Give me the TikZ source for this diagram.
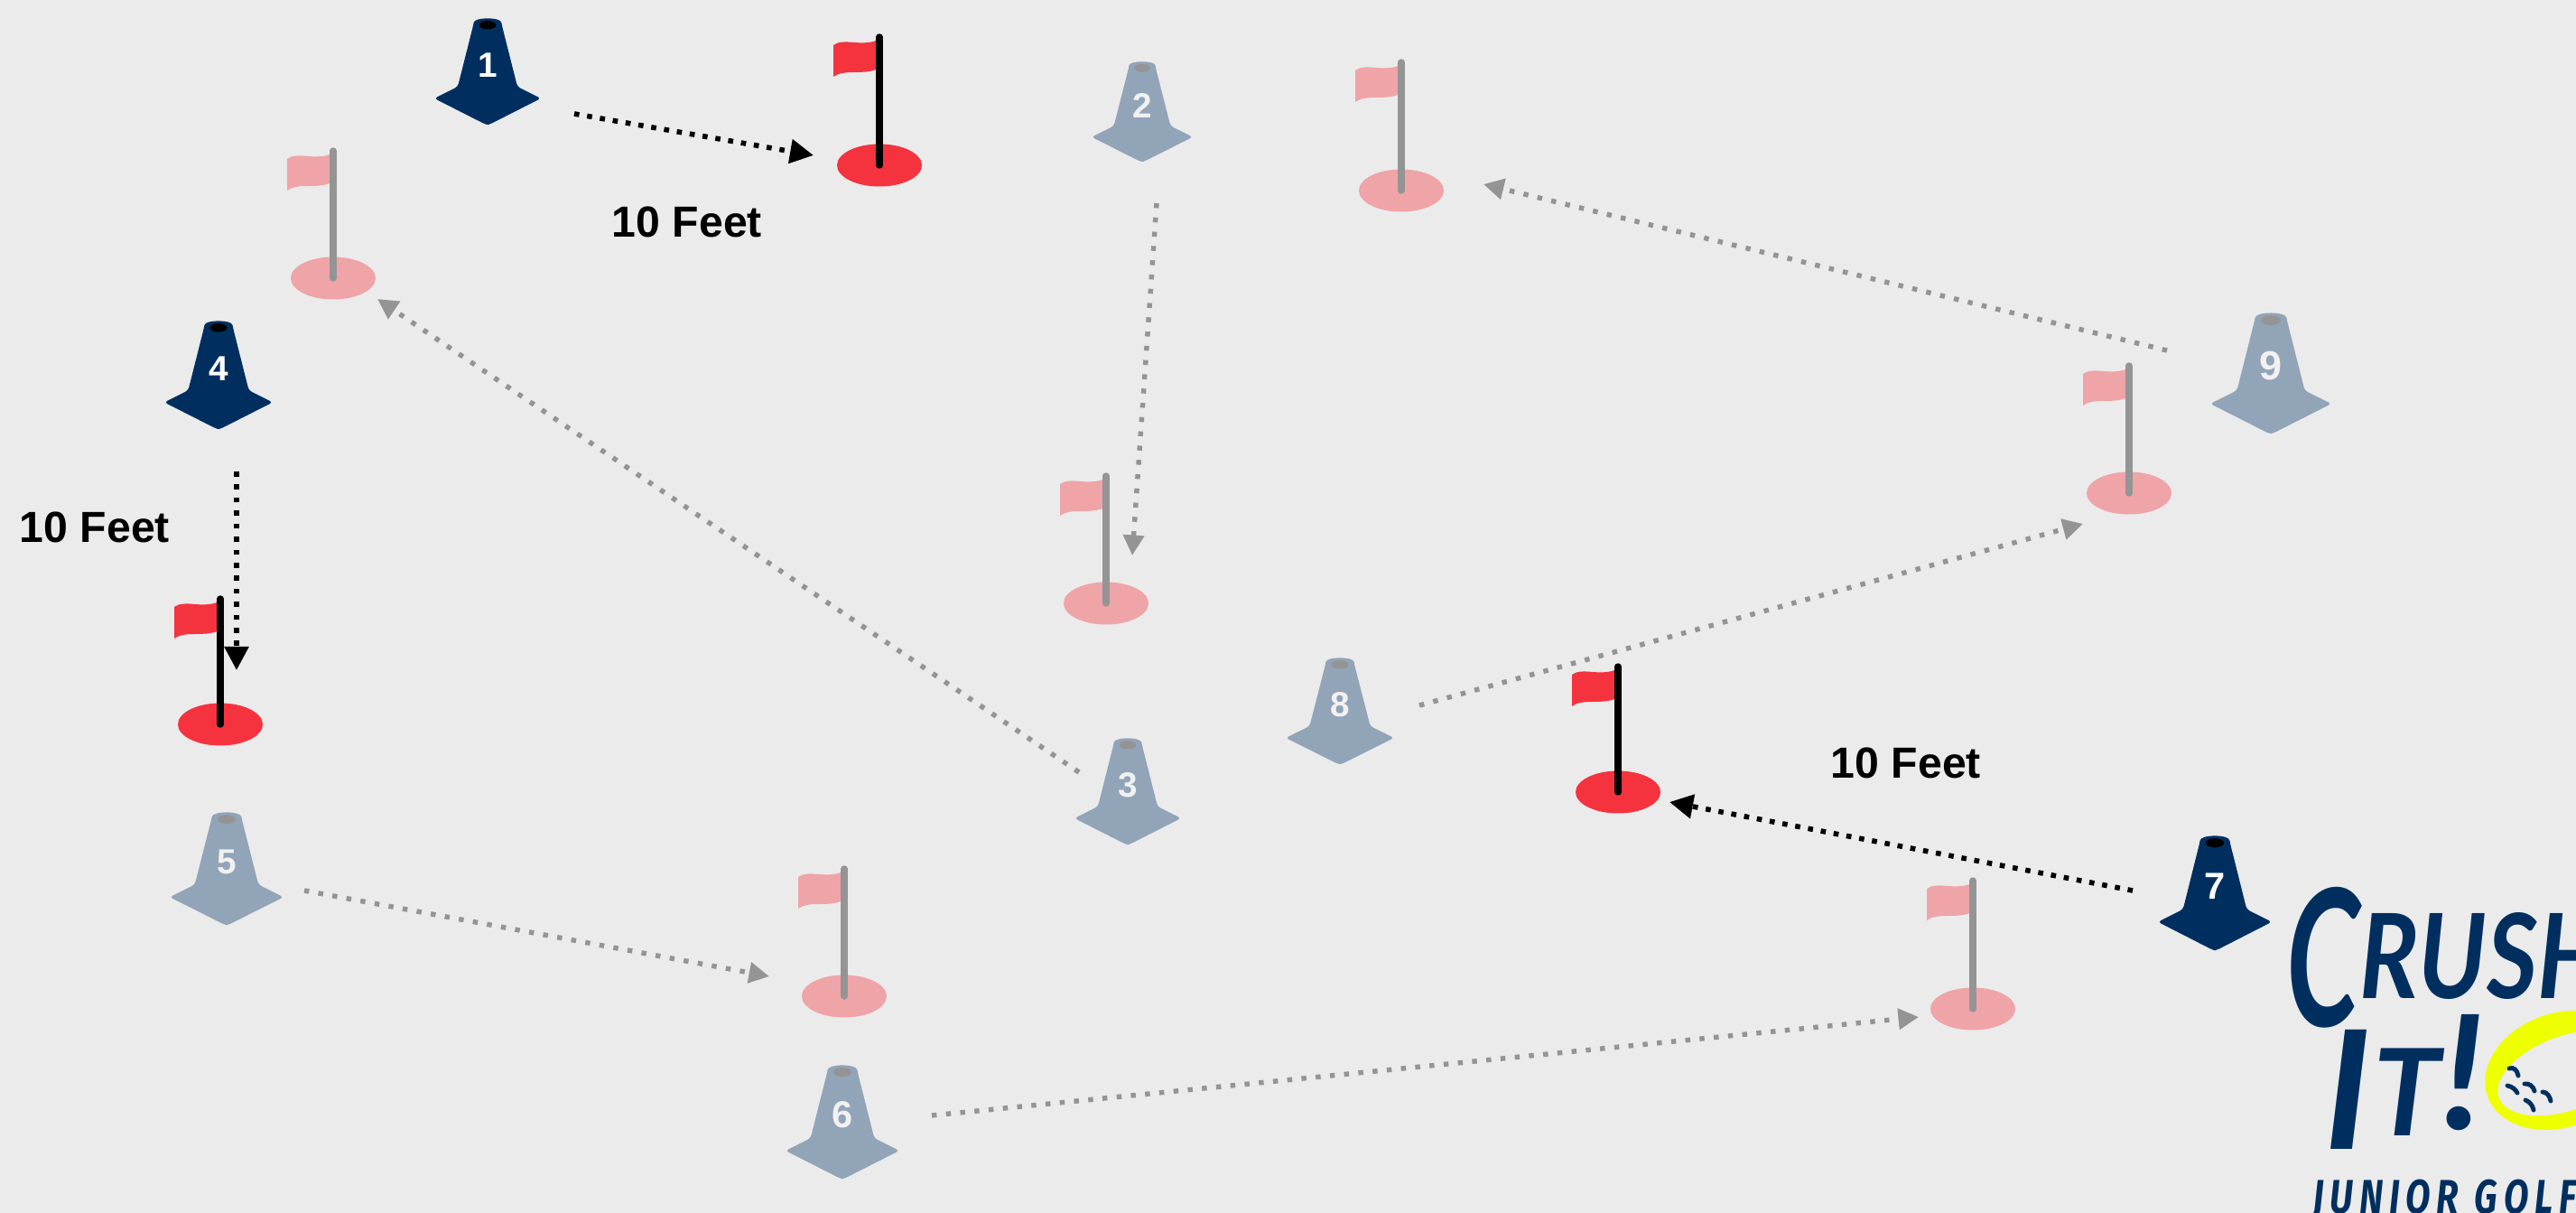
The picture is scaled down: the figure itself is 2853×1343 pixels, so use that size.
\documentclass[tikz,border=0pt]{standalone}
\usepackage{fontspec}
\usepackage{graphicx}
\setmainfont{Liberation Sans}
\newfontfamily\logofont{Lato}
\newfontfamily\firafont{Fira Sans}
\usetikzlibrary{arrows.meta,shapes.geometric}
\definecolor{bgc}{HTML}{EBEBEB}
\definecolor{navyc}{HTML}{002F5F}
\definecolor{paleblue}{HTML}{92A4B7}
\definecolor{redc}{HTML}{F5333F}
\definecolor{pinkc}{HTML}{EFA4A8}
\definecolor{greyc}{HTML}{949494}
\definecolor{numpale}{HTML}{F1F1F1}
\definecolor{yellowc}{HTML}{EEFF00}
\tikzset{
  blackarrow/.style={draw=black,line width=1.6pt,dash pattern=on 1.6pt off 2.5pt,-{Triangle[length=7.4pt,width=7.4pt]}},
  greyarrow/.style={draw=greyc,line width=1.55pt,dash pattern=on 1.55pt off 2.95pt,-{Triangle[length=6.4pt,width=6.4pt]}},
  feetlabel/.style={font=\fontsize{13.7}{16}\selectfont\bfseries,text=black,inner sep=0pt},
  dimple/.style={draw=navyc,line width=1.4pt,line cap=round},
}
% name, cx, top, halfwidth, height, number, fill, hole, numcolor
\newcommand{\conepic}[9]{%
  \begin{scope}[shift={(#2,#3)},xscale=#4,yscale=#5]
    \fill[#7,rounded corners=1pt] (-0.56,0.644) -- (-0.27,0.07)
      .. controls (-0.24,-0.01) and (0.24,-0.01) .. (0.27,0.07)
      -- (0.56,0.644) -- (1,0.754) -- (0.03,1) -- (-0.03,1) -- (-1,0.754) -- cycle;
    \fill[#8] (0,0.065) ellipse [x radius=0.16,y radius=0.04];
    \node[text=#9,inner sep=0pt,font=\fontsize{\conefs}{\conefs}\selectfont\bfseries] (#1) at (0,0.44) {#6};
  \end{scope}}
% X, top, centre y, flag colour, pole colour
\newcommand{\flagpin}[5]{%
  \begin{scope}[shift={(#1,#2)}]
    \fill[#4] (0,#3) ellipse [x radius=47,y radius=23.5];
    \fill[#4] (-51,7) .. controls (-46,3) and (-38,3) .. (-28,4) .. controls (-15,5) and (-6,4) .. (0,0)
      -- (0,32) .. controls (-6,36) and (-15,37) .. (-28,37) .. controls (-38,37) and (-46,38) .. (-51,42) -- cycle;
    \draw[#5,line width=2.1pt,line cap=round] (0,-2) -- (0,#3);
  \end{scope}}
\begin{document}
\begin{tikzpicture}[x=0.01cm,y=-0.01cm]
\useasboundingbox (0,0) rectangle (2853,1343);
\clip (0,0) rectangle (2853,1343);
\fill[bgc] (0,0) rectangle (2853,1343);

% faded flags
\flagpin{369}{169}{139}{pinkc}{greyc}
\flagpin{1552}{71}{140}{pinkc}{greyc}
\flagpin{1225}{529}{139}{pinkc}{greyc}
\flagpin{2358}{407}{139}{pinkc}{greyc}
\flagpin{935}{964}{139}{pinkc}{greyc}
\flagpin{2185}{977}{140}{pinkc}{greyc}
% active flags
\flagpin{974}{43}{140}{redc}{black}
\flagpin{244}{665}{137}{redc}{black}
\flagpin{1792}{740}{137}{redc}{black}

% cones
\def\conefs{11}
\conepic{coneone}{540}{20}{59}{118}{1}{navyc}{black}{white}
\conepic{conefour}{242}{355}{60}{120}{4}{navyc}{black}{white}
\conepic{conetwo}{1265}{68}{56}{111}{2}{paleblue}{greyc}{numpale}
\conepic{conethree}{1249}{817}{59}{118}{3}{paleblue}{greyc}{numpale}
\conepic{conefive}{251}{899}{63}{125}{5}{paleblue}{greyc}{numpale}
\conepic{coneeight}{1484}{728}{60}{118}{8}{paleblue}{greyc}{numpale}
\def\conefs{11.8}
\conepic{coneseven}{2453}{925}{63}{127}{7}{navyc}{black}{white}
\conepic{conesix}{933}{1179}{63}{126}{6}{paleblue}{greyc}{numpale}
\def\conefs{12.8}
\conepic{conenine}{2515}{346}{67}{134}{9}{paleblue}{greyc}{numpale}

% connector ends
\coordinate (a1s) at (636,126);  \coordinate (a1t) at (901,172);
\coordinate (a2s) at (1281,225); \coordinate (a2t) at (1254,615);
\coordinate (a3s) at (1195,855); \coordinate (a3t) at (418,331);
\coordinate (a4s) at (262,522);  \coordinate (a4t) at (262,742);
\coordinate (a5s) at (337,986);  \coordinate (a5t) at (852,1081);
\coordinate (a6s) at (1032,1235);\coordinate (a6t) at (2125,1126);
\coordinate (a7s) at (2362,986); \coordinate (a7t) at (1849,888);
\coordinate (a8s) at (1572,781); \coordinate (a8t) at (2307,580);
\coordinate (a9s) at (2400,388); \coordinate (a9t) at (1643,204);

\draw[blackarrow] (a1s) -- (a1t);
\draw[blackarrow] (a4s) -- (a4t);
\draw[blackarrow] (a7s) -- (a7t);
\draw[greyarrow] (a2s) -- (a2t);
\draw[greyarrow] (a3s) -- (a3t);
\draw[greyarrow] (a5s) -- (a5t);
\draw[greyarrow] (a6s) -- (a6t);
\draw[greyarrow] (a8s) -- (a8t);
\draw[greyarrow] (a9s) -- (a9t);

% labels
\node[feetlabel] (feetone) at (761,246) {10 Feet};
\node[feetlabel] (feettwo) at (105,584) {10 Feet};
\node[feetlabel] (feetthree) at (2111,845) {10 Feet};

% logo
\begin{scope}[rotate around={20:(2835,1185)}]
  \fill[yellowc] (2835,1185) ellipse [x radius=85,y radius=63];
\end{scope}
\begin{scope}[rotate around={20:(2843,1188)}]
  \fill[bgc] (2843,1188) ellipse [x radius=80,y radius=41];
\end{scope}
\draw[dimple] (2779,1183) .. controls (2784,1181) and (2788,1185) .. (2789,1191);
\draw[dimple] (2777,1202) .. controls (2782,1203) and (2786,1206) .. (2788,1210);
\draw[dimple] (2796,1200) .. controls (2801,1199) and (2806,1203) .. (2807,1208);
\draw[dimple] (2816,1209) .. controls (2821,1209) and (2824,1214) .. (2825,1219);
\draw[dimple] (2797,1218) .. controls (2802,1220) and (2805,1224) .. (2806,1229);
\node[anchor=base west,inner sep=0pt,text=navyc] (logoa) at (2532,1105)
  {\logofont\bfseries\itshape\raisebox{-9pt}{\scalebox{0.62}[1]{\fontsize{60}{60}\selectfont C}}\scalebox{0.84}[1]{\fontsize{37}{37}\selectfont RUSH}};
\node[anchor=base west,inner sep=0pt,text=navyc] (logob) at (2574,1272)
  {\logofont\bfseries\itshape\fontsize{52}{52}\selectfont I\hspace{0.5pt}\raisebox{4pt}{\fontsize{38}{38}\selectfont T}\hspace{0.5pt}\raisebox{6pt}{\fontsize{50}{50}\selectfont !}};
\node[anchor=base west,inner sep=0pt,text=navyc] (logoc) at (2561,1343)
  {\firafont\bfseries\itshape\scalebox{0.76}[1]{\fontsize{15}{15}\selectfont J\,U\,N\,I\,O\,R\ \ G\,O\,L\,F}};
\end{tikzpicture}
\end{document}
